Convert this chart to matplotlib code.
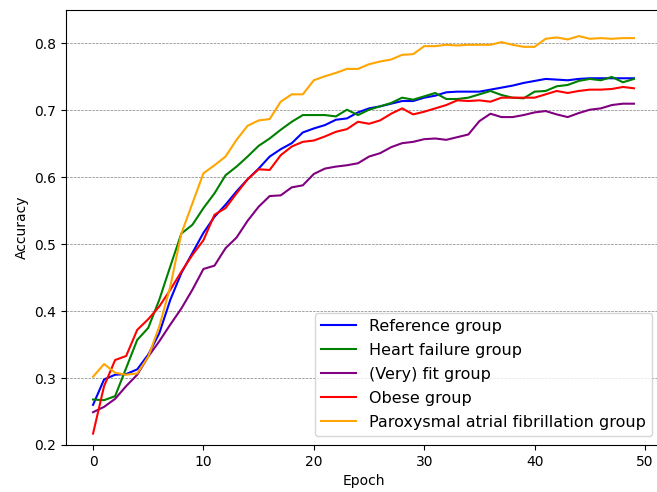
import matplotlib
matplotlib.use("Agg")
import matplotlib.pyplot as plt
import numpy as np

epochs = np.arange(50)

reference = [0.260, 0.298, 0.305, 0.306, 0.313, 0.335, 0.367, 0.417, 0.457, 0.487,
             0.517, 0.541, 0.559, 0.579, 0.597, 0.613, 0.631, 0.642, 0.651, 0.667,
             0.673, 0.678, 0.686, 0.688, 0.697, 0.703, 0.706, 0.710, 0.714, 0.714,
             0.719, 0.722, 0.727, 0.728, 0.728, 0.728, 0.731, 0.734, 0.737, 0.741,
             0.744, 0.747, 0.746, 0.745, 0.747, 0.748, 0.748, 0.748, 0.748, 0.748]

heart_failure = [0.268, 0.267, 0.273, 0.315, 0.357, 0.375, 0.417, 0.467, 0.516, 0.529,
                 0.554, 0.576, 0.603, 0.616, 0.631, 0.647, 0.658, 0.671, 0.683, 0.693,
                 0.693, 0.693, 0.691, 0.701, 0.693, 0.701, 0.706, 0.711, 0.719, 0.716,
                 0.721, 0.726, 0.717, 0.717, 0.719, 0.724, 0.729, 0.723, 0.719, 0.718,
                 0.728, 0.729, 0.736, 0.738, 0.744, 0.747, 0.745, 0.750, 0.742, 0.747]

very_fit = [0.249, 0.257, 0.269, 0.288, 0.305, 0.332, 0.355, 0.380, 0.404, 0.432,
            0.463, 0.468, 0.494, 0.510, 0.535, 0.556, 0.572, 0.573, 0.585, 0.588,
            0.605, 0.613, 0.616, 0.618, 0.621, 0.631, 0.636, 0.645, 0.651, 0.653,
            0.657, 0.658, 0.656, 0.660, 0.664, 0.684, 0.695, 0.690, 0.690, 0.693,
            0.697, 0.699, 0.694, 0.690, 0.696, 0.701, 0.703, 0.708, 0.710, 0.710]

obese = [0.217, 0.288, 0.327, 0.333, 0.372, 0.388, 0.407, 0.432, 0.459, 0.484,
         0.506, 0.544, 0.554, 0.576, 0.597, 0.612, 0.611, 0.633, 0.646, 0.653,
         0.655, 0.661, 0.668, 0.672, 0.683, 0.680, 0.685, 0.695, 0.703, 0.694,
         0.698, 0.703, 0.708, 0.715, 0.714, 0.715, 0.713, 0.719, 0.719, 0.719,
         0.719, 0.724, 0.729, 0.726, 0.729, 0.731, 0.731, 0.732, 0.735, 0.733]

paf = [0.302, 0.321, 0.308, 0.305, 0.307, 0.332, 0.377, 0.437, 0.516, 0.561,
       0.606, 0.618, 0.631, 0.656, 0.677, 0.685, 0.687, 0.713, 0.724, 0.724,
       0.745, 0.751, 0.756, 0.762, 0.762, 0.769, 0.773, 0.776, 0.783, 0.784,
       0.796, 0.796, 0.798, 0.797, 0.798, 0.798, 0.798, 0.802, 0.798, 0.795,
       0.795, 0.807, 0.809, 0.806, 0.811, 0.807, 0.808, 0.807, 0.808, 0.808]

series = [
    ("Reference group", reference, "blue"),
    ("Heart failure group", heart_failure, "green"),
    ("(Very) fit group", very_fit, "purple"),
    ("Obese group", obese, "red"),
    ("Paroxysmal atrial fibrillation group", paf, "orange"),
]

fig = plt.figure(figsize=(6.57, 4.92), dpi=100)
ax = fig.add_axes([66/657, 47/492, 595/657, 435/492])
for label, vals, color in series:
    ax.plot(epochs, vals, color=color, label=label)

ax.set_ylim(0.2, 0.85)
ax.set_xlabel("Epoch")
ax.set_ylabel("Accuracy")
ax.yaxis.grid(True, linestyle="--", color="gray", linewidth=0.5)
ax.legend(loc="lower right", fontsize=11.5, handlelength=2.2,
          labelspacing=0.56, borderaxespad=0.55)
fig.savefig("out.png", dpi=100)
